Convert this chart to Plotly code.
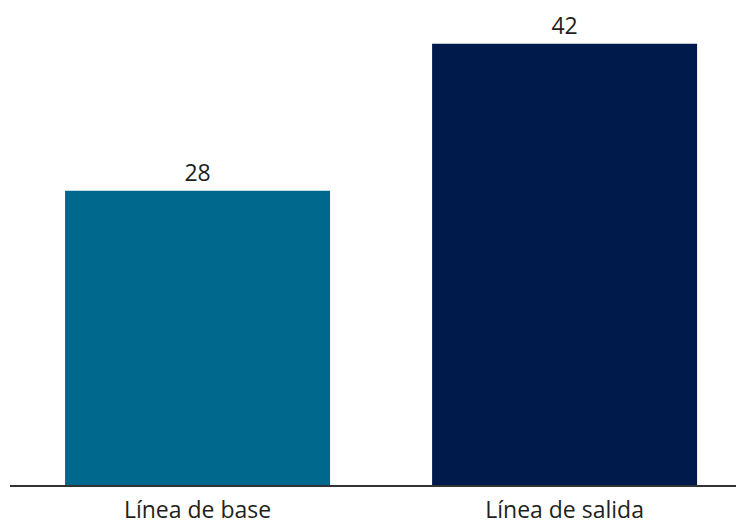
import plotly.graph_objects as go

categories = ["Línea de base", "Línea de salida"]
values = [28, 42]
colors = ["#00688c", "#001a4b"]

fig = go.Figure(go.Bar(
    x=categories, y=values,
    marker=dict(color=colors, line=dict(width=0)),
    width=0.722,
    text=[str(v) for v in values],
    textposition="outside",
    textfont=dict(family="Open Sans", size=23, color="#231f20"),
    cliponaxis=False,
))

fig.update_layout(
    width=736, height=525,
    margin=dict(l=10, r=0, t=0, b=38),
    paper_bgcolor="white", plot_bgcolor="white",
    showlegend=False,
    xaxis=dict(
        range=[-0.511, 1.467],
        showline=True, linecolor="#333333", linewidth=2,
        ticks="outside", ticklen=3, tickcolor="rgba(0,0,0,0)", showgrid=False,
        tickfont=dict(family="Open Sans", size=23, color="#231f20"),
    ),
    yaxis=dict(range=[0, 46.17], visible=False, showgrid=False, zeroline=False),
)

fig.write_html("out.html", config={"displayModeBar": False},
               post_script="document.body.style.margin='0';")
